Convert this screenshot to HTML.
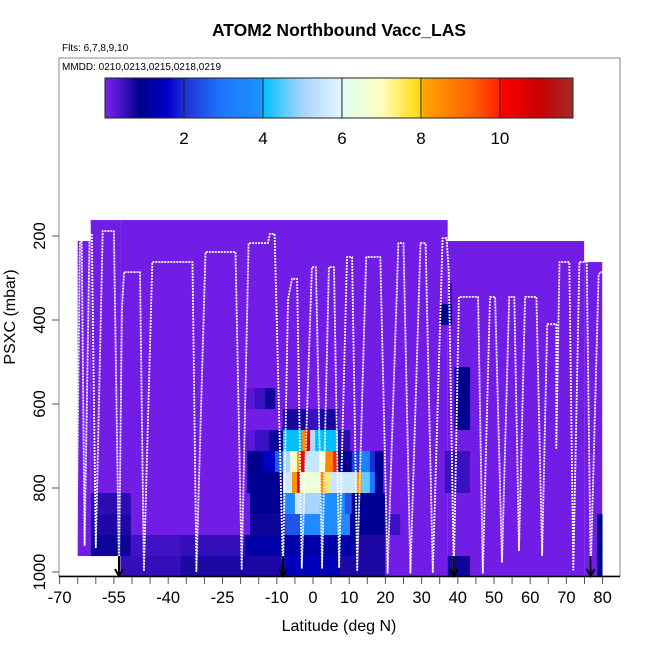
<!DOCTYPE html>
<html><head><meta charset="utf-8">
<style>
html,body{margin:0;padding:0;background:#fff;}
svg{display:block;font-family:"Liberation Sans",Arial,sans-serif;}
</style></head>
<body>
<svg id="chart" width="650" height="650" viewBox="0 0 650 650" xmlns="http://www.w3.org/2000/svg">
  <text x="339" y="36" text-anchor="middle" font-size="17.5" font-weight="bold">ATOM2 Northbound Vacc_LAS</text>
  <text x="62" y="51" font-size="10">Flts: 6,7,8,9,10</text>
  <rect x="59" y="58" width="561" height="518" fill="none" stroke="#888" stroke-width="1"/>
  <text x="62" y="70" font-size="10">MMDD: 0210,0213,0215,0218,0219</text>
  <g id="cells"></g>
  <g id="track"></g>
  <g id="arrows"></g>
  <g id="cbar"></g>
  <g id="axes"></g>
  <text x="339" y="631" text-anchor="middle" font-size="16">Latitude (deg N)</text>
  <text transform="translate(15,317) rotate(-90)" text-anchor="middle" font-size="16">PSXC (mbar)</text>
</svg>
<script>
// ---- data ----
const xTicks = [-70,-65,-60,-55,-50,-45,-40,-35,-30,-25,-20,-15,-10,-5,0,5,10,15,20,25,30,35,40,45,50,55,60,65,70,75,80];
const xTickLabels = [-70,-55,-40,-25,-10,0,10,20,30,40,50,60,70,80];
const yTicks = [200,400,600,800,1000];
const cbarTicks = [2,4,6,8,10];
const rowEdges = [162,212,262,312,362,412,462,512,562,612,662,712,762,812,862,912,962,1012];
// coverage: [lat0, lat1, pTop, pBot, value]
const coverage = [
  [-65.0,-61.4,212,962,0.1],
  [-61.4,-53.2,162,962,0.1],
  [-53.2,37.2,162,1012,0.1],
  [37.2,74.9,212,1012,0.1],
  [74.9,79.9,262,1012,0.1]
];
// patches: [lat0, lat1, rowIndex, value]
const patches = [
  [-18.7,-16.0,8,0.3],[-16.0,-13.2,8,0.5],[-13.2,-10.5,8,0.8],
  [-8.3,6.9,9,0.75],[-1.7,1.9,9,0.5],
  [-20.1,-16.0,10,0.25],[-16.0,-12.0,10,0.5],[-12.0,-8.3,10,0.8],[-8.3,-3.0,10,4.0],[-3.0,-2.2,10,8.5],[-2.2,-0.8,10,10.4],[-0.8,0.6,10,5.2],[0.6,6.9,10,4.0],[6.9,10.2,10,0.6],
  [-18.2,-14.0,11,0.9],[-14.0,-10.5,11,1.5],[-10.5,-8.3,11,2.6],[-8.3,-6.3,11,5.0],[-6.3,-4.4,11,6.8],[-4.4,-3.6,11,8.2],[-3.6,-2.2,11,10.2],[-2.2,1.9,11,5.5],[1.9,3.3,11,6.8],[3.3,5.5,11,8.6],[5.5,6.9,11,10.0],[6.9,10.7,11,1.0],[10.7,12.9,11,2.2],[12.9,15.7,11,3.4],[15.7,17.1,11,2.0],[17.1,19.3,11,1.0],
  [-18.2,-8.3,12,1.0],[-8.3,-5.8,12,5.6],[-5.8,-4.4,12,8.4],[-4.4,-3.6,12,10.6],[-3.6,1.9,12,6.5],[1.9,3.3,12,8.6],[3.3,4.7,12,7.5],[4.7,12.1,12,5.6],[12.1,13.5,12,8.3],[13.5,15.7,12,4.6],[15.7,17.1,12,3.0],[17.1,19.3,12,1.0],
  [-17.4,-8.3,13,1.0],[-8.3,-5.0,13,3.8],[-5.0,-3.6,13,5.6],[-3.6,1.9,13,5.0],[1.9,8.8,13,3.9],[8.8,10.7,13,2.5],[10.7,19.8,13,1.0],
  [-17.4,-7.7,14,0.8],[-7.7,-3.6,14,2.5],[-3.6,10.2,14,3.8],[10.2,19.8,14,1.0],[19.8,24.0,14,0.5],
  [-18.7,11.6,15,1.2],[11.6,19.8,15,0.7],
  [-9.0,7.4,16,1.4],[7.4,19.8,16,0.7],
  [-61.4,-50.4,13,0.6],[-61.4,-50.4,14,0.7],[-61.4,-50.4,15,0.8],
  [-50.4,-36.6,15,0.45],[-36.6,-18.7,15,0.55],
  [-53.2,-36.6,16,0.55],[-36.6,-9.0,16,0.7],
  [39.1,43.3,7,0.9],[39.1,43.3,8,0.9],[39.1,43.3,9,1.0],
  [35.0,38.3,4,0.9],[37.5,38.3,3,0.6],
  [36.4,43.3,11,0.5],[36.4,43.3,12,0.5],
  [37.2,43.3,16,0.8],[78.5,79.9,14,0.9],[78.5,79.9,15,0.9],[78.5,79.9,16,1.0]
];
const trackLat = [-66.1,-65.6,-65.3,-64.4,-63.9,-63.1,-61.7,-61.1,-60.0,-58.1,-55.0,-53.6,-52.8,-52.2,-47.8,-46.7,-44.4,-33.3,-32.2,-29.7,-21.4,-19.7,-17.8,-12.5,-11.9,-10.6,-8.3,-6.9,-5.8,-4.4,-3.1,-0.3,0.8,2.5,4.4,5.8,7.2,9.4,10.8,12.2,14.7,18.6,20.6,23.6,25.0,26.9,29.7,31.1,33.1,35.8,36.9,37.5,38.9,40.3,45.6,46.9,48.9,50.3,52.2,54.2,55.6,56.9,58.6,61.7,63.3,64.7,67.2,67.2,68.1,70.8,71.9,73.6,75.6,76.7,78.9,79.4,80.8,80.8];
const trackP = [240,252,926,214,214,936,195,195,943,188,188,1000,376,286,286,998,262,262,998,238,238,995,217,217,195,195,1000,352,302,302,990,274,274,990,274,274,990,250,250,998,250,250,1002,217,217,1002,217,217,1002,205,205,286,1000,345,345,1002,345,345,976,345,345,948,345,345,960,410,410,705,262,262,995,262,262,1000,293,286,286,662];
const arrowLats = [-53.6,-8.3,38.9,76.7];
const cmapV = [0,0.5,0.9,1.6,2.0,3.0,3.95,4.0,5.0,6.0,6.05,7.0,8.0,8.05,9.3,10.0,10.05,11.0,11.85];
const cmapC = ['#8020ee','#3a10c0','#00008b','#0000cd','#2030d8','#1e78ff','#1e90ff','#00bfff','#a8d4ff','#e4f6ff','#e0fff0','#ffffc0','#ffd700','#ffa500','#ff6000','#ff2000','#ff0000','#c80000','#a52a2a'];

// ---- scales ----
const X = lat => 313 + lat*3.62;
const Y = p => 236 + (p-200)*0.42;
const CB = v => 105 + v*(468/11.85);
const NS = 'http://www.w3.org/2000/svg';
function mk(tag, parent, attrs){ const e=document.createElementNS(NS,tag); for(const k in attrs) e.setAttribute(k,attrs[k]); parent.appendChild(e); return e; }
function hex(h){return [parseInt(h.slice(1,3),16),parseInt(h.slice(3,5),16),parseInt(h.slice(5,7),16)];}
function color(v){
  if(v<=cmapV[0]) return cmapC[0];
  for(let i=1;i<cmapV.length;i++){ if(v<=cmapV[i]){ const t=(v-cmapV[i-1])/(cmapV[i]-cmapV[i-1]); const a=hex(cmapC[i-1]), b=hex(cmapC[i]); return 'rgb('+a.map((x,j)=>Math.round(x+(b[j]-x)*t)).join(',')+')'; } }
  return cmapC[cmapC.length-1];
}

// heatmap
const cells=document.getElementById('cells');
coverage.forEach(c=>{
  const r=mk('rect',cells,{x:X(c[0]),y:Y(c[2]),width:X(c[1])-X(c[0]),height:Y(c[3])-Y(c[2]),fill:color(c[4])});
  
  
});
patches.forEach(c=>{
  const r=mk('rect',cells,{x:X(c[0]),y:Y(rowEdges[c[2]]),width:X(c[1])-X(c[0])+0.3,height:Y(rowEdges[c[2]+1])-Y(rowEdges[c[2]]),fill:color(c[3])});
  
  
});

// track
const tr=document.getElementById('track');
const pts=trackLat.map((l,i)=>X(l).toFixed(1)+','+Y(trackP[i]).toFixed(1)).join(' ');
const pl=mk('polyline',tr,{points:pts,fill:'none',stroke:'#fff','stroke-width':1.8,'stroke-dasharray':'2,1','stroke-linejoin':'round'});



// arrows
const ar=document.getElementById('arrows');
arrowLats.forEach(l=>{
  const x=X(l);
  const g=mk('path',ar,{d:`M${x},556 L${x},576 M${x-4},569 L${x},576 L${x+4},569`,stroke:'#000','stroke-width':2,fill:'none'});
  
  
});

// colorbar
const cb=document.getElementById('cbar');
const defs=mk('defs',cb,{});
const grad=mk('linearGradient',defs,{id:'cg',x1:0,x2:1,y1:0,y2:0});
cmapV.forEach((v,i)=>mk('stop',grad,{offset:(v/11.85).toFixed(4),'stop-color':cmapC[i]}));
const cr=mk('rect',cb,{x:105,y:78,width:468,height:40,fill:'url(#cg)',stroke:'#222','stroke-width':1});


cbarTicks.forEach(v=>{
  const ln=mk('line',cb,{x1:CB(v),x2:CB(v),y1:78,y2:118,stroke:'#222','stroke-width':1});
  
  
  const t=mk('text',cb,{x:CB(v),y:144,'text-anchor':'middle','font-size':17});
  t.textContent=v;
  
  
});

// axes
const ax=document.getElementById('axes');
const xl=mk('line',ax,{x1:59,x2:620,y1:576.5,y2:576.5,stroke:'#000','stroke-width':1.5});


xTicks.forEach(v=>{
  const t=mk('line',ax,{x1:X(v),x2:X(v),y1:577,y2:584,stroke:'#555','stroke-width':1});
  
  
});
xTickLabels.forEach(v=>{
  const t=mk('text',ax,{x:X(v),y:603,'text-anchor':'middle','font-size':16.5});
  t.textContent=v;
  
  
});
yTicks.forEach(v=>{
  const t=mk('line',ax,{x1:52,x2:59,y1:Y(v),y2:Y(v),stroke:'#555','stroke-width':1});
  
  
  const l=mk('text',ax,{transform:`translate(45,${Y(v)}) rotate(-90)`,'text-anchor':'middle','font-size':16.5});
  l.textContent=v;
  
  
});
</script>
</body></html>
